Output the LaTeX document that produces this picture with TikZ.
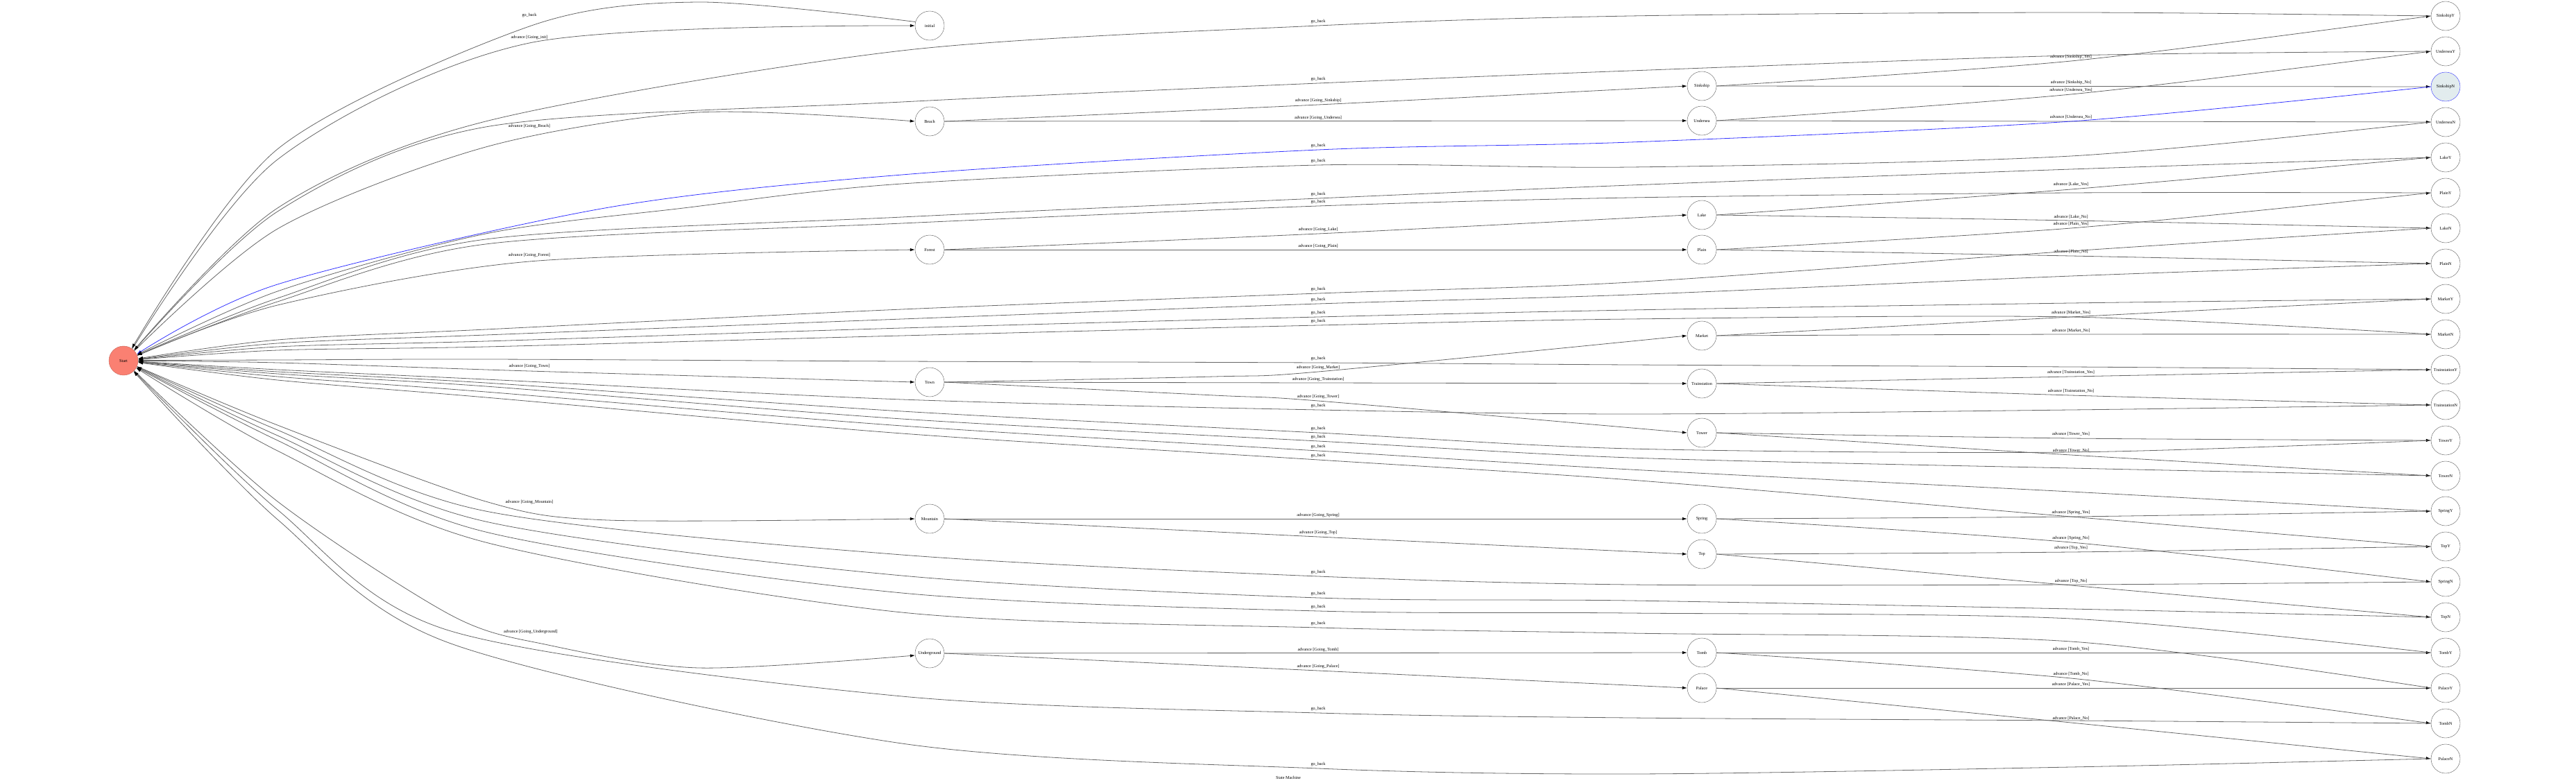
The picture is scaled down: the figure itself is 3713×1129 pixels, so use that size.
\documentclass[tikz,border=0pt]{standalone}
\usepackage{fontspec}
\setmainfont{Liberation Serif}
\usetikzlibrary{arrows.meta,positioning}
\newcommand{\statefont}{\fontsize{6.2}{7}\selectfont}
\definecolor{startfill}{RGB}{250,128,114}
\definecolor{nowfill}{RGB}{226,236,238}

\begin{document}
\begin{tikzpicture}[x=1pt, y=-1pt, >={Latex[length=7pt,width=4.5pt,color=black]},
    state/.style={draw=black!65, circle, minimum size=42pt, inner sep=1pt, font=\statefont},
    trans/.style={draw=black!60, line width=0.8pt, ->},
    lbl/.style={inner sep=0pt, font=\statefont}]
    \useasboundingbox (0,0) rectangle (3713,1129);

    \node [state, fill=startfill, draw=startfill!80!black] (Start) at (178,520) {Start};

    \node [state] (Initial) at (1340,37) {initial};
    \node [state] (Beach) at (1340,175) {Beach};
    \node [state] (Forest) at (1340,360) {Forest};
    \node [state] (Town) at (1340,551) {Town};
    \node [state] (Mountain) at (1340,748) {Mountain};
    \node [state] (Underground) at (1340,942) {Underground};

    \node [state] (Sinkship) at (2453,124) {Sinkship};
    \node [state] (Undersea) at (2453,174) {Undersea};
    \node [state] (Lake) at (2453,310) {Lake};
    \node [state] (Plain) at (2453,360) {Plain};
    \node [state] (Market) at (2453,484) {Market};
    \node [state] (Trainstation) at (2453,553) {Trainstation};
    \node [state] (Tower) at (2453,624) {Tower};
    \node [state] (Spring) at (2453,748) {Spring};
    \node [state] (Top) at (2453,799) {Top};
    \node [state] (Tomb) at (2453,941) {Tomb};
    \node [state] (Palace) at (2453,992) {Palace};

    \node [state] (SinkshipY) at (3525,23) {SinkshipY};
    \node [state, below=8.6pt of SinkshipY] (UnderseaY) {UnderseaY};
    \node [state, draw=blue!80, fill=nowfill, below=8.6pt of UnderseaY] (SinkshipN) {SinkshipN};
    \node [state, below=8.6pt of SinkshipN] (UnderseaN) {UnderseaN};
    \node [state, below=8.6pt of UnderseaN] (LakeY) {LakeY};
    \node [state, below=8.6pt of LakeY] (PlainY) {PlainY};
    \node [state, below=8.6pt of PlainY] (LakeN) {LakeN};
    \node [state, below=8.6pt of LakeN] (PlainN) {PlainN};
    \node [state, below=8.6pt of PlainN] (MarketY) {MarketY};
    \node [state, below=8.6pt of MarketY] (MarketN) {MarketN};
    \node [state, below=8.6pt of MarketN] (TrainstationY) {TrainstationY};
    \node [state, below=8.6pt of TrainstationY] (TrainstationN) {TrainstationN};
    \node [state, below=8.6pt of TrainstationN] (TowerY) {TowerY};
    \node [state, below=8.6pt of TowerY] (TowerN) {TowerN};
    \node [state, below=8.6pt of TowerN] (SpringY) {SpringY};
    \node [state, below=8.6pt of SpringY] (TopY) {TopY};
    \node [state, below=8.6pt of TopY] (SpringN) {SpringN};
    \node [state, below=8.6pt of SpringN] (TopN) {TopN};
    \node [state, below=8.6pt of TopN] (TombY) {TombY};
    \node [state, below=8.6pt of TombY] (PalaceY) {PalaceY};
    \node [state, below=8.6pt of PalaceY] (TombN) {TombN};
    \node [state, below=8.6pt of TombN] (PalaceN) {PalaceN};

    \node [lbl] (LabelGoingInit) at (763,54) {advance [Going\_init]};
    \node [lbl] (LabelBackInit) at (763,22) {go\_back};
    \node [lbl] (LabelGoingBeach) at (763,182) {advance [Going\_Beach]};
    \node [lbl] (LabelGoingForest) at (763,368) {advance [Going\_Forest]};
    \node [lbl] (LabelGoingTown) at (763,528) {advance [Going\_Town]};
    \node [lbl] (LabelGoingMountain) at (763,724) {advance [Going\_Mountain]};
    \node [lbl] (LabelGoingUnderground) at (765,911) {advance [Going\_Underground]};
    \draw [trans] plot [smooth] coordinates {(Start.53) (400,230) (763,62) (Initial.west)};
    \draw [trans] plot [smooth] coordinates {(Initial.165) (1006,3) (763,38) (400,215) (Start.56)};
    \draw [trans] plot [smooth] coordinates {(Start.42) (400,330) (700,212) (1006,162) (Beach.west)};
    \draw [trans] plot [smooth] coordinates {(Start.20) (400,440) (763,377) (Forest.west)};
    \draw [trans] plot [smooth] coordinates {(Start.-1) (400,523) (763,535) (Town.west)};
    \draw [trans] plot [smooth] coordinates {(Start.-23) (400,613) (700,723) (876,750) (Mountain.west)};
    \draw [trans] plot [smooth] coordinates {(Start.-43) (400,723) (650,887) (790,930) (1007,963) (Underground.188)};

    \node [lbl] (LabelGoingSinkship) at (1900,145) {advance [Going\_Sinkship]};
    \node [lbl] (LabelGoingUndersea) at (1900,170) {advance [Going\_Undersea]};
    \node [lbl] (LabelGoingLake) at (1900,331) {advance [Going\_Lake]};
    \node [lbl] (LabelGoingPlain) at (1900,355) {advance [Going\_Plain]};
    \node [lbl] (LabelGoingMarket) at (1900,530) {advance [Going\_Market]};
    \node [lbl] (LabelGoingTrainstation) at (1900,547) {advance [Going\_Trainstation]};
    \node [lbl] (LabelGoingTower) at (1900,572) {advance [Going\_Tower]};
    \node [lbl] (LabelGoingSpring) at (1900,743) {advance [Going\_Spring]};
    \node [lbl] (LabelGoingTop) at (1900,768) {advance [Going\_Top]};
    \node [lbl] (LabelGoingTomb) at (1900,937) {advance [Going\_Tomb]};
    \node [lbl] (LabelGoingPalace) at (1900,961) {advance [Going\_Palace]};
    \draw [trans] plot [smooth] coordinates {(Beach.east) (1900,151) (Sinkship.west)};
    \draw [trans] (Beach) -- (Undersea);
    \draw [trans] plot [smooth] coordinates {(Forest.east) (1900,337) (Lake.west)};
    \draw [trans] (Forest) -- (Plain);
    \draw [trans] plot [smooth] coordinates {(Town.east) (1750,543) (1900,536) (Market.west)};
    \draw [trans] plot [smooth] coordinates {(Town.east) (1900,552) (Trainstation.west)};
    \draw [trans] plot [smooth] coordinates {(Town.east) (1750,570) (1900,578) (Tower.west)};
    \draw [trans] (Mountain) -- (Spring);
    \draw [trans] plot [smooth] coordinates {(Mountain.east) (1900,774) (Top.west)};
    \draw [trans] (Underground) -- (Tomb);
    \draw [trans] plot [smooth] coordinates {(Underground.east) (1900,967) (Palace.west)};

    \node [lbl] (LabelSinkshipYes) at (2985,82) {advance [Sinkship\_Yes]};
    \node [lbl] (LabelSinkshipNo) at (2985,119) {advance [Sinkship\_No]};
    \node [lbl] (LabelUnderseaYes) at (2985,130) {advance [Undersea\_Yes]};
    \node [lbl] (LabelUnderseaNo) at (2985,169) {advance [Undersea\_No]};
    \node [lbl] (LabelLakeYes) at (2985,266) {advance [Lake\_Yes]};
    \node [lbl] (LabelLakeNo) at (2985,313) {advance [Lake\_No]};
    \node [lbl] (LabelPlainYes) at (2985,323) {advance [Plain\_Yes]};
    \node [lbl] (LabelPlainNo) at (2985,363) {advance [Plain\_No]};
    \node [lbl] (LabelMarketYes) at (2985,451) {advance [Market\_Yes]};
    \node [lbl] (LabelMarketNo) at (2985,477) {advance [Market\_No]};
    \node [lbl] (LabelTrainstationYes) at (2985,537) {advance [Trainstation\_Yes]};
    \node [lbl] (LabelTrainstationNo) at (2985,564) {advance [Trainstation\_No]};
    \node [lbl] (LabelTowerYes) at (2985,626) {advance [Tower\_Yes]};
    \node [lbl] (LabelTowerNo) at (2985,650) {advance [Tower\_No]};
    \node [lbl] (LabelSpringYes) at (2985,739) {advance [Spring\_Yes]};
    \node [lbl] (LabelSpringNo) at (2985,776) {advance [Spring\_No]};
    \node [lbl] (LabelTopYes) at (2985,790) {advance [Top\_Yes]};
    \node [lbl] (LabelTopNo) at (2985,838) {advance [Top\_No]};
    \node [lbl] (LabelTombYes) at (2985,936) {advance [Tomb\_Yes]};
    \node [lbl] (LabelTombNo) at (2985,972) {advance [Tomb\_No]};
    \node [lbl] (LabelPalaceYes) at (2985,987) {advance [Palace\_Yes]};
    \node [lbl] (LabelPalaceNo) at (2985,1036) {advance [Palace\_No]};
    \draw [trans] plot [smooth] coordinates {(Sinkship.east) (2985,88) (SinkshipY.west)};
    \draw [trans] (Sinkship) -- (SinkshipN);
    \draw [trans] plot [smooth] coordinates {(Undersea.east) (2985,136) (UnderseaY.west)};
    \draw [trans] (Undersea) -- (UnderseaN);
    \draw [trans] plot [smooth] coordinates {(Lake.east) (2985,273) (LakeY.west)};
    \draw [trans] plot [smooth] coordinates {(Lake.east) (2985,318) (LakeN.west)};
    \draw [trans] plot [smooth] coordinates {(Plain.east) (2985,329) (PlainY.west)};
    \draw [trans] plot [smooth] coordinates {(Plain.east) (2985,369) (PlainN.west)};
    \draw [trans] plot [smooth] coordinates {(Market.east) (2985,457) (MarketY.west)};
    \draw [trans] plot [smooth] coordinates {(Market.east) (2985,482) (MarketN.west)};
    \draw [trans] plot [smooth] coordinates {(Trainstation.east) (2985,543) (TrainstationY.west)};
    \draw [trans] plot [smooth] coordinates {(Trainstation.east) (2985,570) (TrainstationN.west)};
    \draw [trans] plot [smooth] coordinates {(Tower.east) (2985,632) (TowerY.west)};
    \draw [trans] plot [smooth] coordinates {(Tower.east) (2985,656) (TowerN.west)};
    \draw [trans] plot [smooth] coordinates {(Spring.east) (2985,745) (SpringY.west)};
    \draw [trans] plot [smooth] coordinates {(Spring.east) (2985,782) (SpringN.west)};
    \draw [trans] plot [smooth] coordinates {(Top.east) (2985,796) (TopY.west)};
    \draw [trans] plot [smooth] coordinates {(Top.east) (2985,844) (TopN.west)};
    \draw [trans] (Tomb) -- (TombY);
    \draw [trans] plot [smooth] coordinates {(Tomb.east) (2985,978) (TombN.west)};
    \draw [trans] (Palace) -- (PalaceY);
    \draw [trans] plot [smooth] coordinates {(Palace.east) (2985,1042) (PalaceN.west)};

    \node [lbl] (BackSinkshipY) at (1900,31) {go\_back};
    \node [lbl] (BackUnderseaY) at (1900,114) {go\_back};
    \node [lbl] (BackSinkshipN) at (1900,210) {go\_back};
    \node [lbl] (BackUnderseaN) at (1900,232) {go\_back};
    \node [lbl] (BackLakeY) at (1900,280) {go\_back};
    \node [lbl] (BackPlainY) at (1900,291) {go\_back};
    \node [lbl] (BackLakeN) at (1900,417) {go\_back};
    \node [lbl] (BackPlainN) at (1900,432) {go\_back};
    \node [lbl] (BackMarketY) at (1900,451) {go\_back};
    \node [lbl] (BackMarketN) at (1900,463) {go\_back};
    \node [lbl] (BackTrainstationY) at (1900,517) {go\_back};
    \node [lbl] (BackTrainstationN) at (1900,585) {go\_back};
    \node [lbl] (BackTowerY) at (1900,618) {go\_back};
    \node [lbl] (BackTowerN) at (1900,630) {go\_back};
    \node [lbl] (BackSpringY) at (1900,644) {go\_back};
    \node [lbl] (BackTopY) at (1900,657) {go\_back};
    \node [lbl] (BackSpringN) at (1900,825) {go\_back};
    \node [lbl] (BackTopN) at (1900,856) {go\_back};
    \node [lbl] (BackTombY) at (1900,875) {go\_back};
    \node [lbl] (BackPalaceY) at (1900,899) {go\_back};
    \node [lbl] (BackTombN) at (1900,1022) {go\_back};
    \node [lbl] (BackPalaceN) at (1900,1102) {go\_back};
    \draw [trans] plot [smooth] coordinates {(SinkshipY.west) (2985,18) (2350,23) (1900,37) (1300,73) (700,175) (400,300) (Start.45)};
    \draw [trans] plot [smooth] coordinates {(UnderseaY.west) (2985,80) (2350,102) (1900,120) (1300,147) (700,183) (400,305) (Start.44)};
    \draw [trans, draw=blue!80, -{Latex[length=7pt,width=4.5pt]}] plot [smooth] coordinates {(SinkshipN.west) (2985,175) (2350,205) (1900,216) (1300,252) (872,300) (400,410) (Start.26)};
    \draw [trans] plot [smooth] coordinates {(UnderseaN.west) (2985,225) (2350,241) (1900,238) (1300,265) (985,300) (700,337) (400,420) (Start.24)};
    \draw [trans] plot [smooth] coordinates {(LakeY.west) (2985,244) (2350,267) (1900,286) (1300,313) (700,345) (400,430) (Start.22)};
    \draw [trans] plot [smooth] coordinates {(PlainY.west) (2985,278) (2350,285) (1900,297) (1300,322) (700,352) (400,435) (Start.21)};
    \draw [trans] plot [smooth] coordinates {(LakeN.west) (2985,362) (2350,407) (1900,423) (1300,446) (700,475) (400,490) (Start.8)};
    \draw [trans] plot [smooth] coordinates {(PlainN.west) (2985,398) (2350,425) (1900,438) (1300,460) (700,483) (400,495) (Start.6)};
    \draw [trans] plot [smooth] coordinates {(MarketY.west) (2985,437) (2350,447) (1900,457) (1300,473) (700,492) (400,500) (Start.5)};
    \draw [trans] plot [smooth] coordinates {(MarketN.west) (2985,457) (2350,460) (1900,469) (1300,484) (700,500) (400,505) (Start.4)};
    \draw [trans] plot [smooth] coordinates {(TrainstationY.west) (2985,529) (2350,526) (1900,523) (1300,521) (700,518) (400,519) (Start.1)};
    \draw [trans] plot [smooth] coordinates {(TrainstationN.west) (2985,591) (2350,597) (1900,591) (1300,576) (700,547) (400,533) (Start.-3)};
    \draw [trans] plot [smooth] coordinates {(TowerY.west) (2985,652) (2350,647) (1900,624) (1300,593) (700,552) (400,536) (Start.-4)};
    \draw [trans] plot [smooth] coordinates {(TowerN.west) (2985,675) (2350,660) (1900,636) (1300,604) (700,557) (400,539) (Start.-5)};
    \draw [trans] plot [smooth] coordinates {(SpringY.west) (2985,709) (2350,677) (1900,650) (1300,614) (700,565) (400,543) (Start.-6)};
    \draw [trans] plot [smooth] coordinates {(TopY.west) (2985,745) (2350,692) (1900,663) (1300,625) (700,573) (400,548) (Start.-7)};
    \draw [trans] plot [smooth] coordinates {(SpringN.west) (2985,843) (2350,843) (1900,831) (1300,800) (700,737) (400,620) (Start.-24)};
    \draw [trans] plot [smooth] coordinates {(TopN.west) (2985,878) (2350,866) (1900,862) (1300,830) (700,752) (400,628) (Start.-26)};
    \draw [trans] plot [smooth] coordinates {(TombY.west) (2985,892) (2350,884) (1900,881) (1300,855) (700,767) (400,635) (Start.-28)};
    \draw [trans] plot [smooth] coordinates {(PalaceY.west) (2985,925) (2350,913) (1900,905) (1300,883) (700,782) (400,650) (Start.-30)};
    \draw [trans] plot [smooth] coordinates {(TombN.west) (2985,1039) (2350,1035) (1900,1028) (1300,1004) (650,910) (400,735) (Start.-45)};
    \draw [trans] plot [smooth] coordinates {(PalaceN.west) (2985,1106) (2350,1116) (1900,1108) (1300,1072) (650,928) (400,749) (Start.-47)};

    \node [lbl] (Title) at (1857,1121) {State Machine};
\end{tikzpicture}
\end{document}
